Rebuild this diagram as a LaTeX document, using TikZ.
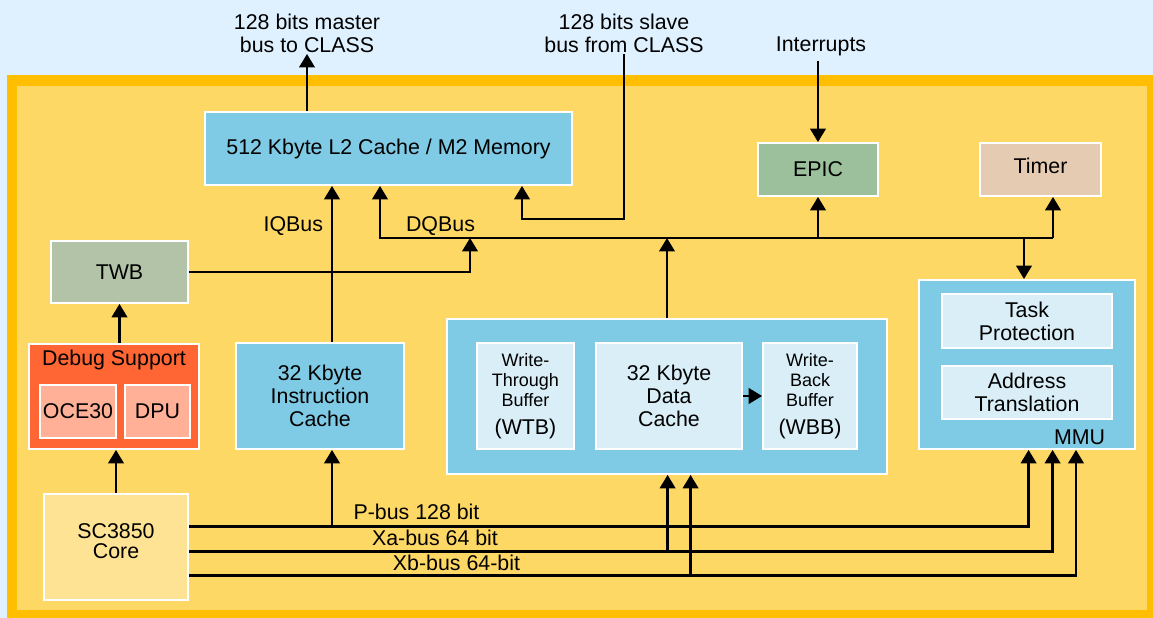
\documentclass[tikz,border=0pt]{standalone}
\usepackage{fontspec}
\setmainfont{Liberation Sans}
\usepackage{tikz}
\usetikzlibrary{arrows.meta, positioning}
\definecolor{skyback}{HTML}{DFF0FE}
\definecolor{frameorange}{HTML}{FFBE00}
\definecolor{chipyellow}{HTML}{FED865}
\definecolor{cacheblue}{HTML}{7FCAE4}
\definecolor{paleblue}{HTML}{D9EEF7}
\definecolor{epicgreen}{HTML}{9CC09C}
\definecolor{timertan}{HTML}{E5CBB2}
\definecolor{twbgrey}{HTML}{B3C3A8}
\definecolor{debugred}{HTML}{FF6633}
\definecolor{debugpink}{HTML}{FFB096}
\definecolor{coreyellow}{HTML}{FEE395}

\begin{document}
\begin{tikzpicture}[>={Triangle[length=9.5pt, width=11pt]},
    font=\fontsize{15.2}{16.4}\selectfont,
    blk/.style={draw=white, line width=1.3pt, align=center, inner sep=0pt},
    bus/.style={line width=1.6pt}]
    \useasboundingbox (0,0) rectangle (28.825,15.45);

    % Background and chip frame
    \fill[skyback] (0,0) rectangle (28.825,15.45);
    \fill[frameorange] (0.175,0) rectangle (28.825,13.575);
    \fill[chipyellow] (0.425,0.2) rectangle (28.675,13.3);

    % Memory, interrupt controller and timer
    \node[blk, fill=cacheblue, minimum width=9.175cm, minimum height=1.825cm] (ltwo) at (9.7125,11.7375) {512 Kbyte L2 Cache / M2 Memory};
    \node[blk, fill=epicgreen, minimum width=3.0cm, minimum height=1.325cm] (epic) at (20.45,11.2125) {EPIC};
    \node[blk, fill=timertan, minimum width=3.025cm, minimum height=1.325cm, text depth=6pt] (timer) at (26.0125,11.2125) {Timer};

    % Left column
    \node[blk, fill=twbgrey, minimum width=3.425cm, minimum height=1.55cm] (twb) at (2.9875,8.65) {TWB};
    \node[blk, fill=debugred, minimum width=4.25cm, minimum height=2.625cm] (debug) at (2.85,5.5375) {};
    \node (dbgttl) at (2.85,6.45) {Debug Support};
    \node[blk, fill=debugpink, minimum width=1.9cm, minimum height=1.325cm] (oce) at (1.95,5.1625) {OCE30};
    \node[blk, fill=debugpink, minimum width=1.625cm, minimum height=1.325cm] (dpu) at (3.9375,5.1625) {DPU};
    \node[blk, fill=coreyellow, minimum width=3.6cm, minimum height=2.65cm, text depth=8pt] (core) at (2.9,1.775) {SC3850\\[-2pt]Core};

    % Caches
    \node[blk, fill=cacheblue, minimum width=4.2cm, minimum height=2.65cm] (icache) at (8.0,5.55) {32 Kbyte\\Instruction\\Cache};
    \node[blk, fill=cacheblue, minimum width=11.0cm, minimum height=3.875cm] (dbox) at (16.675,5.5375) {};
    \node[blk, fill=paleblue, minimum width=2.425cm, minimum height=2.65cm, font=\fontsize{12.8}{14.2}\selectfont] (wtb) at (13.1375,5.55) {Write-\\Through\\Buffer\\[6pt]\fontsize{15.2}{16}\selectfont(WTB)};
    \node[blk, fill=paleblue, minimum width=3.65cm, minimum height=2.65cm] (dcache) at (16.725,5.55) {32 Kbyte\\Data\\Cache};
    \node[blk, fill=paleblue, minimum width=2.35cm, minimum height=2.65cm, font=\fontsize{12.8}{14.2}\selectfont] (wbb) at (20.25,5.55) {Write-\\Back\\Buffer\\[6pt]\fontsize{15.2}{16}\selectfont(WBB)};
    \draw[bus,->] (dcache.east) -- (wbb.west);

    % MMU
    \node[blk, fill=cacheblue, minimum width=5.4cm, minimum height=4.225cm] (mmu) at (25.675,6.3375) {};
    \node[blk, fill=paleblue, minimum width=4.25cm, minimum height=1.35cm] (task) at (25.675,7.425) {Task\\Protection};
    \node[blk, fill=paleblue, minimum width=4.25cm, minimum height=1.325cm] (addr) at (25.675,5.6375) {Address\\Translation};
    \node[anchor=east] (mmulbl) at (27.75,4.525) {MMU};

    % Links to CLASS and interrupts
    \node[align=center, anchor=south, inner sep=1pt] (mst) at (7.675,14.1) {128 bits master\\bus to CLASS};
    \draw[bus,->] (ltwo.north -| mst.south) -- (mst.south);
    \node[align=center, anchor=south, inner sep=1pt] (slv) at (15.6,14.1) {128 bits slave\\bus from CLASS};
    \coordinate (sbend) at (13.05,9.975);
    \draw[bus,->] (slv.south) |- (sbend) -- (sbend |- ltwo.south);
    \node (intlbl) at (20.525,14.3) {Interrupts};
    \draw[bus,->] (intlbl.south -| epic.north) -- (epic.north);

    % DQBus and IQBus
    \coordinate (dql) at (9.5,9.5);
    \coordinate (dqr) at (26.325,9.5);
    \coordinate (mmutap) at (25.6,9.5);
    \coordinate (twbtap) at (11.75,9.5);
    \coordinate (iqtap) at (8.3,0);
    \draw[bus,->] (dqr) -- (dql) -- (dql |- ltwo.south);
    \draw[bus,->] (dqr) -- (dqr |- timer.south);
    \draw[bus,->] (epic.south |- dql) -- (epic.south);
    \draw[bus,->] (mmutap) -- (mmutap |- mmu.north);
    \draw[bus,->] (dbox.north) -- (dbox.north |- dql);
    \draw[bus,->] (twb.east) -| (twbtap);
    \draw[bus,->] (icache.north -| iqtap) -- (ltwo.south -| iqtap);
    \node[anchor=east] (iqlbl) at (8.2,9.8) {IQBus};
    \node (dqlbl) at (11.0125,9.8) {DQBus};

    % Debug path
    \draw[bus,->] (core.north) -- (core.north |- debug.south);
    \draw[bus,->] (twb.south |- debug.north) -- (twb.south);

    % Core buses
    \coordinate (pb) at (25.715,2.2875);
    \coordinate (xa) at (26.315,1.6625);
    \coordinate (xb) at (26.9,1.0625);
    \coordinate (xatap) at (16.69,0);
    \coordinate (xbtap) at (17.265,0);
    \draw[bus,->] (core.east |- pb) -- (pb) -- (pb |- mmu.south);
    \draw[bus,->] (core.east |- xa) -- (xa) -- (xa |- mmu.south);
    \draw[bus,->] (core.east |- xb) -- (xb) -- (xb |- mmu.south);
    \draw[bus,->] (iqtap |- pb) -- (icache.south -| iqtap);
    \draw[bus,->] (xatap |- xa) -- (xatap |- dbox.south);
    \draw[bus,->] (xbtap |- xb) -- (xbtap |- dbox.south);
    \node (pblbl) at (10.4125,2.65) {P-bus 128 bit};
    \node (xalbl) at (10.875,2.0) {Xa-bus 64 bit};
    \node (xblbl) at (11.4125,1.375) {Xb-bus 64-bit};
\end{tikzpicture}
\end{document}
